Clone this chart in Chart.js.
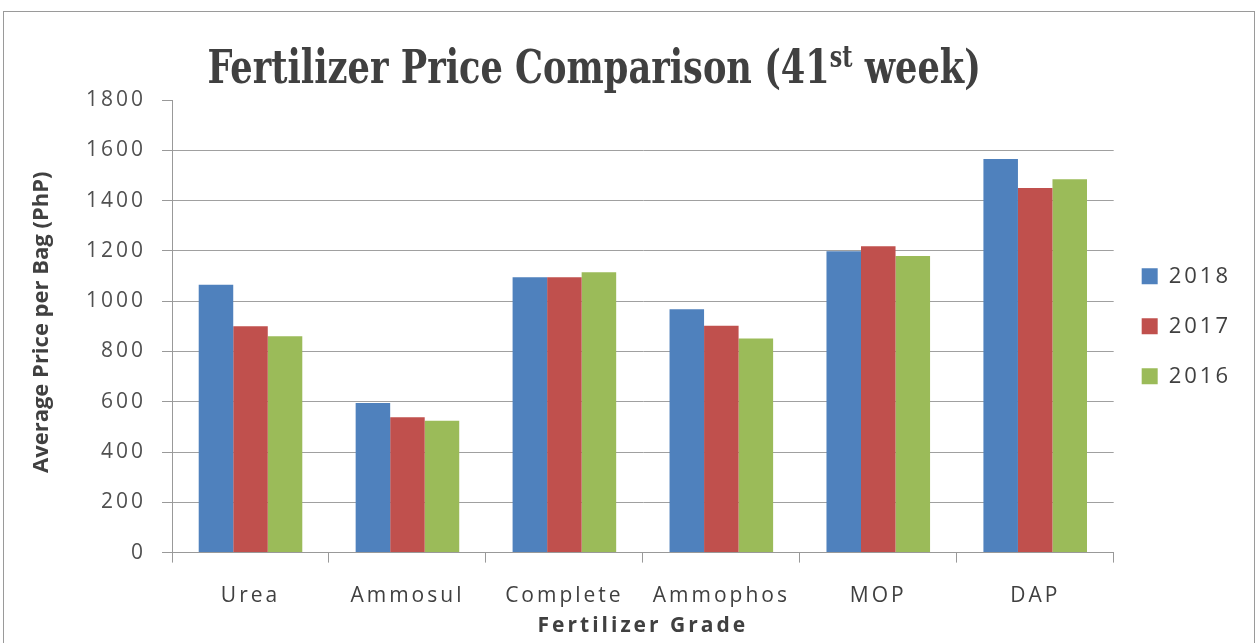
<!DOCTYPE html>
<html>
<head>
<meta charset="utf-8">
<script src="https://cdn.jsdelivr.net/npm/chart.js@4/dist/chart.umd.min.js"></script>
<style>
  html, body { margin: 0; padding: 0; background: #fff; }
  #wrap { position: relative; width: 1260px; height: 643px; }
  #frame { position: absolute; left: 3px; top: 11px; width: 1252px; height: 640px; border: 1px solid #9a9a9a; box-sizing: border-box; }
  #title {
    position: absolute; left: 140px; width: 900px; top: 44px; margin: 0;
    text-align: center; font-family: "DejaVu Serif Condensed", "DejaVu Serif", serif;
    font-weight: bold; font-size: 46px; color: #404040; line-height: 1;
    white-space: nowrap; transform: scaleX(0.85); transform-origin: 450px 0;
  }
  #title sup { font-size: 29px; vertical-align: 16px; line-height: 0; }
  canvas { position: absolute; left: 0; top: 0; }
</style>
</head>
<body>
<div id="wrap">
  <div id="frame"></div>
  <canvas id="grafico" width="1260" height="643"></canvas>
  <h1 id="title">Fertilizer Price Comparison (41<sup>st</sup> week)</h1>
</div>
<script>
// dados
var categorias = ["Urea", "Ammosul", "Complete", "Ammophos", "MOP", "DAP"];
var valores2018 = [1065, 595, 1095, 968, 1198, 1565];
var valores2017 = [900, 538, 1095, 902, 1218, 1450];
var valores2016 = [860, 524, 1115, 851, 1180, 1485];
var ticksY = [0, 200, 400, 600, 800, 1000, 1200, 1400, 1600, 1800];
var tituloY = "Average Price per Bag (PhP)";

var series = [
  { label: "2018", data: valores2018, cor: "#4f81bd" },
  { label: "2017", data: valores2017, cor: "#c0504d" },
  { label: "2016", data: valores2016, cor: "#9bbb59" }
];

// texto do grafico original aparece mais largo, usa letterSpacing no canvas
var espacamento = {
  id: "espacamento",
  beforeLayout: function (chart) { chart.ctx.letterSpacing = "3px"; },
  beforeDraw: function (chart) { chart.ctx.letterSpacing = "3px"; },
  afterDraw: function (chart) {
    // titulo do eixo Y desenhado a parte, sem espacamento
    var c = chart.ctx, area = chart.chartArea;
    c.save();
    c.letterSpacing = "0px";
    c.font = "bold 22px 'Open Sans'";
    c.fillStyle = "#404040";
    c.textAlign = "center";
    c.textBaseline = "middle";
    c.translate(42, (area.top + area.bottom) / 2 - 4);
    c.rotate(-Math.PI / 2);
    c.fillText(tituloY, 0, 0);
    c.restore();
  }
};

var ctx = document.getElementById("grafico").getContext("2d");

new Chart(ctx, {
  type: "bar",
  data: {
    labels: categorias,
    datasets: series.map(function (s) {
      return {
        label: s.label,
        data: s.data,
        backgroundColor: s.cor,
        borderWidth: 0,
        categoryPercentage: 0.66,
        barPercentage: 1.0
      };
    })
  },
  plugins: [espacamento],
  options: {
    responsive: false,
    animation: false,
    layout: { padding: { left: 70, right: 19, top: 100, bottom: 4 } },
    plugins: {
      legend: {
        position: "right",
        fullSize: false,
        labels: {
          boxWidth: 16, boxHeight: 16, padding: 28,
          font: { family: "Open Sans", size: 22 }, color: "#404040"
        }
      },
      tooltip: { enabled: false }
    },
    scales: {
      x: {
        grid: { display: true, drawOnChartArea: false, offset: true, tickLength: 10, color: "#999" },
        border: { color: "#999" },
        ticks: { padding: 21, font: { family: "Open Sans", size: 21 }, color: "#404040" },
        title: { display: true, text: "Fertilizer Grade", font: { family: "Open Sans", size: 21, weight: "bold" }, color: "#404040", padding: { top: -16, bottom: 0 } }
      },
      y: {
        min: 0, max: 1800,
        afterBuildTicks: function (axis) { axis.ticks = ticksY.map(function (v) { return { value: v }; }); },
        grid: {
          tickLength: 10,
          tickColor: "#999",
          // sem linha de grade no topo (1800), so o tracinho
          color: function (c) { return c.index === ticksY.length - 1 ? "rgba(255,255,255,0)" : "#a0a0a0"; }
        },
        border: { color: "#999" },
        ticks: {
          padding: 16, font: { family: "Open Sans", size: 21 }, color: "#505050",
          callback: function (value) { return String(value); }
        }
      }
    }
  }
});
</script>
</body>
</html>
